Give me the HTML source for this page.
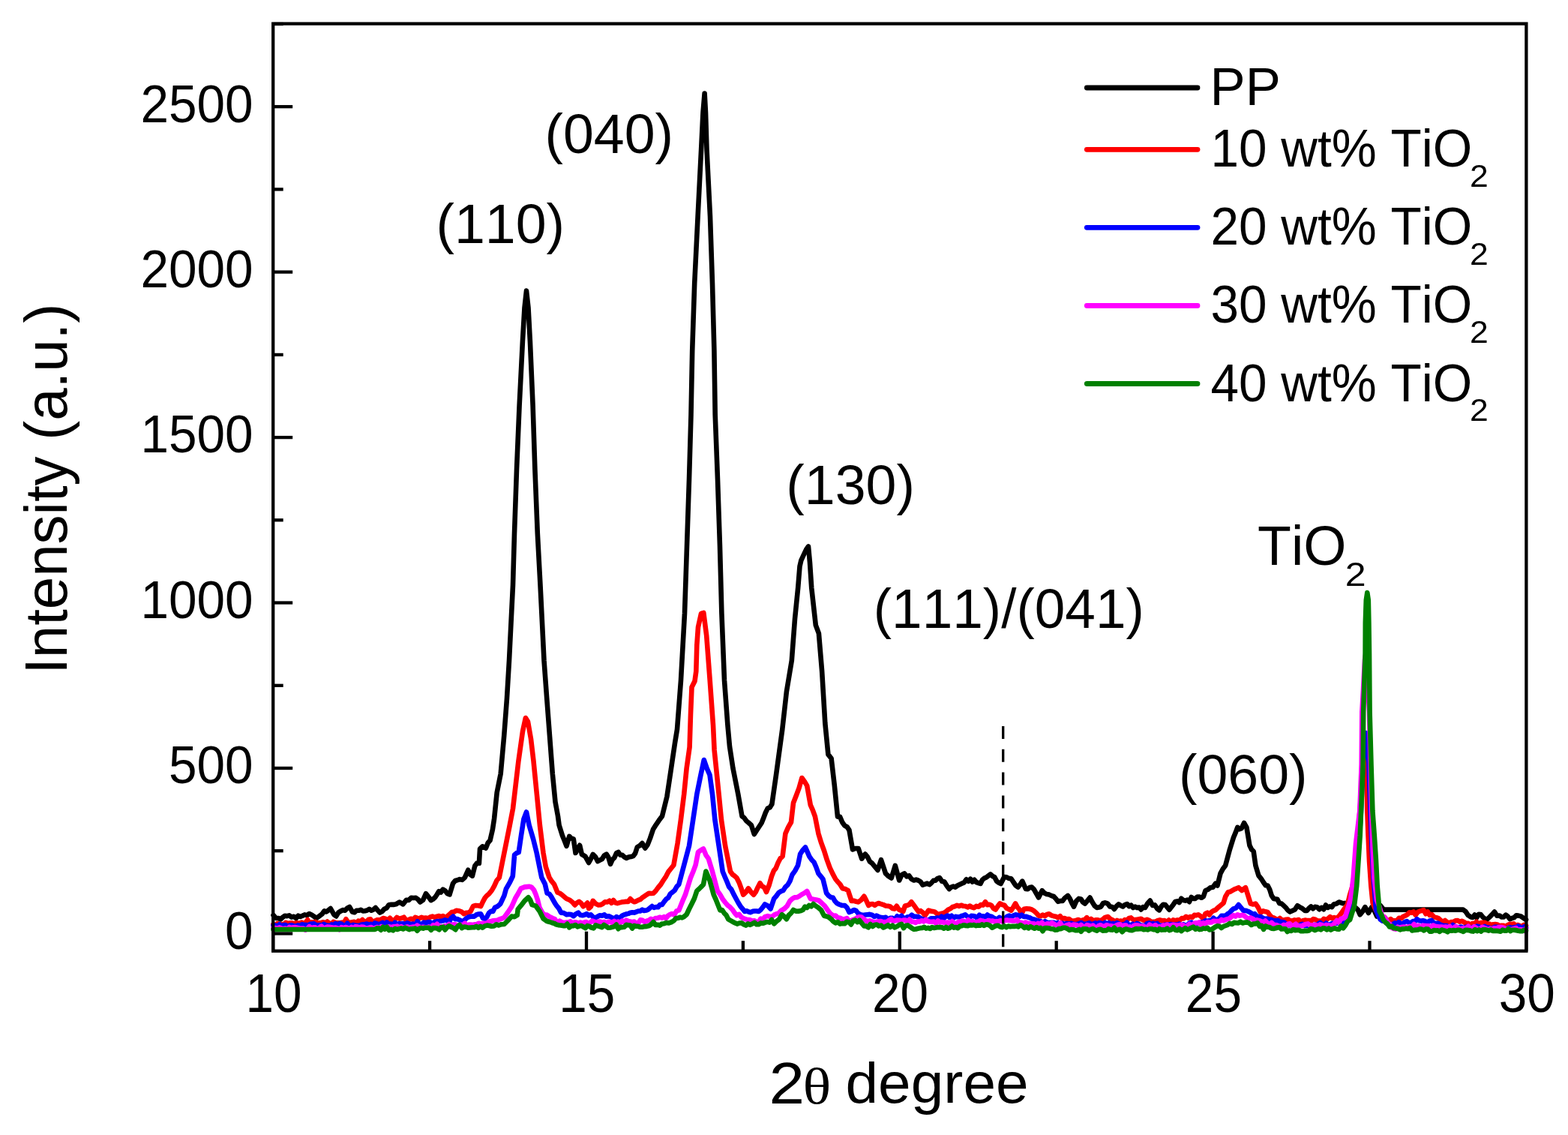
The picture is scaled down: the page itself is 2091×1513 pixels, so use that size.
<!DOCTYPE html>
<html><head><meta charset="utf-8"><title>XRD patterns</title>
<style>
html,body{margin:0;padding:0;background:#fff;}
svg{display:block;}
text{font-family:'Liberation Sans', Arial, sans-serif;fill:#000;font-kerning:none;font-feature-settings:"kern" 0;}
</style></head>
<body>
<svg width="2091" height="1513" viewBox="0 0 2091 1513">
<rect x="0" y="0" width="2091" height="1513" fill="#fff"/>
<path d="M364.5,1220.0 L368.0,1223.9 L371.5,1224.0 L374.3,1225.5 L377.1,1222.7 L379.9,1220.8 L382.7,1221.2 L385.8,1220.3 L388.8,1222.6 L391.8,1221.8 L394.9,1224.0 L397.7,1220.7 L400.5,1222.0 L403.4,1220.8 L406.2,1219.4 L409.3,1220.2 L412.4,1218.0 L415.5,1219.4 L418.8,1221.7 L422.1,1224.0 L425.9,1221.1 L429.6,1218.4 L432.4,1214.3 L435.2,1215.5 L438.0,1213.3 L440.8,1211.0 L445.5,1219.4 L448.3,1221.4 L451.2,1216.6 L454.0,1214.7 L457.1,1213.1 L460.1,1213.7 L463.1,1210.7 L466.2,1209.0 L469.9,1215.6 L472.7,1216.3 L475.5,1213.7 L478.4,1213.8 L481.2,1212.8 L484.0,1214.5 L486.8,1214.2 L489.6,1213.5 L492.4,1211.9 L495.2,1213.7 L498.0,1212.5 L500.8,1210.0 L503.6,1213.4 L506.5,1216.6 L509.5,1215.1 L512.5,1211.7 L515.6,1210.4 L518.6,1206.2 L521.7,1205.8 L524.9,1205.9 L528.0,1205.3 L532.7,1202.5 L537.4,1205.3 L542.0,1199.7 L545.1,1200.0 L548.3,1196.7 L551.5,1197.0 L554.6,1196.9 L557.4,1198.9 L560.2,1202.5 L564.1,1199.8 L568.0,1191.2 L571.4,1195.6 L574.8,1200.2 L577.4,1198.7 L580.1,1196.3 L582.7,1192.5 L585.3,1188.1 L588.0,1189.5 L590.6,1185.6 L593.6,1187.3 L596.6,1191.2 L599.6,1192.4 L604.0,1177.8 L607.0,1173.9 L610.0,1173.3 L613.0,1172.1 L616.4,1172.9 L619.8,1169.9 L624.3,1159.8 L627.1,1165.8 L629.9,1167.6 L633.3,1154.2 L636.1,1150.5 L638.9,1150.8 L640.0,1131.7 L643.4,1128.3 L647.9,1130.6 L650.7,1123.5 L653.5,1120.4 L656.9,1105.8 L659.1,1091.2 L662.7,1056.4 L667.7,1031.3 L672.2,981.0 L676.0,930.8 L679.0,880.5 L681.5,830.2 L684.0,780.0 L686.0,711.0 L689.0,626.0 L692.6,540.7 L696.9,455.3 L699.5,410.0 L702.0,387.5 L704.5,410.0 L706.9,455.0 L710.6,540.7 L713.4,626.0 L716.8,711.0 L720.5,780.0 L723.0,830.2 L725.5,880.5 L729.2,930.8 L733.0,981.0 L736.8,1031.3 L740.5,1069.0 L744.0,1088.0 L745.6,1100.0 L750.0,1113.9 L752.8,1120.8 L755.5,1127.8 L759.2,1114.8 L762.0,1117.7 L764.8,1118.5 L767.5,1137.0 L770.3,1132.1 L773.1,1126.8 L775.9,1138.9 L780.5,1141.6 L785.1,1150.0 L787.9,1144.9 L790.7,1138.9 L793.9,1142.0 L797.1,1148.1 L800.0,1146.6 L803.0,1145.0 L805.9,1140.3 L808.8,1138.6 L811.4,1143.0 L814.0,1151.8 L816.7,1145.8 L819.3,1143.3 L822.0,1137.3 L824.6,1136.0 L827.3,1139.8 L829.9,1139.8 L832.6,1142.4 L835.2,1143.9 L838.3,1142.6 L841.4,1142.1 L844.5,1141.2 L847.1,1137.5 L849.8,1129.3 L853.1,1127.3 L856.4,1124.0 L860.3,1130.7 L863.6,1126.1 L867.0,1117.4 L871.0,1105.5 L874.9,1099.3 L878.8,1093.6 L883.0,1088.0 L889.4,1062.0 L895.0,1024.4 L900.1,990.0 L903.0,972.3 L908.0,906.9 L913.0,817.7 L916.0,728.4 L919.0,639.2 L921.5,553.0 L923.2,467.4 L926.2,378.0 L930.6,288.7 L935.1,199.3 L937.5,150.0 L939.6,124.5 L941.0,150.0 L942.5,199.3 L947.0,288.7 L950.0,378.0 L952.4,467.4 L953.7,553.0 L957.0,639.2 L960.0,728.4 L962.4,817.7 L966.0,906.9 L970.4,966.4 L973.0,995.0 L977.5,1024.4 L984.3,1058.7 L989.5,1088.0 L992.3,1090.1 L995.2,1094.2 L998.0,1096.5 L1001.9,1100.0 L1005.8,1112.0 L1008.4,1107.9 L1011.0,1104.0 L1015.6,1097.0 L1018.3,1090.2 L1021.0,1083.0 L1023.8,1077.5 L1026.6,1076.4 L1029.4,1072.0 L1035.0,1033.0 L1043.3,972.0 L1048.9,922.0 L1055.8,880.5 L1060.0,825.0 L1064.2,783.3 L1066.5,755.0 L1068.3,747.2 L1072.5,738.0 L1075.2,732.4 L1078.0,728.5 L1080.0,750.0 L1082.2,783.3 L1087.8,833.3 L1091.9,844.4 L1096.1,894.4 L1100.3,963.9 L1104.4,1005.6 L1108.6,1011.0 L1112.8,1047.0 L1117.0,1088.6 L1120.1,1088.9 L1123.3,1096.3 L1126.4,1100.6 L1129.5,1102.2 L1132.5,1106.7 L1137.0,1132.5 L1140.8,1131.0 L1144.7,1131.0 L1149.2,1144.7 L1153.8,1138.6 L1156.9,1142.4 L1159.9,1148.5 L1163.0,1150.7 L1166.8,1155.5 L1170.5,1159.9 L1175.0,1146.2 L1178.0,1155.3 L1181.0,1164.4 L1184.8,1168.0 L1188.7,1170.5 L1193.8,1154.0 L1199.2,1173.5 L1202.6,1166.2 L1206.0,1164.3 L1209.2,1168.5 L1212.3,1167.3 L1215.5,1171.9 L1218.7,1173.5 L1221.7,1172.6 L1224.6,1173.7 L1227.6,1175.3 L1230.5,1179.6 L1233.5,1178.6 L1236.4,1177.5 L1239.4,1179.2 L1242.1,1176.9 L1244.8,1173.8 L1247.6,1173.6 L1250.3,1171.0 L1253.0,1170.0 L1256.2,1174.8 L1259.4,1175.5 L1262.6,1180.7 L1265.8,1185.0 L1268.5,1182.6 L1271.3,1181.6 L1274.0,1182.6 L1276.8,1180.5 L1279.5,1179.2 L1282.6,1177.8 L1285.6,1176.4 L1288.7,1172.3 L1291.4,1174.8 L1294.1,1171.8 L1296.8,1175.5 L1299.4,1172.8 L1302.1,1176.1 L1304.8,1177.0 L1307.5,1177.9 L1310.1,1172.8 L1312.8,1170.6 L1315.5,1169.5 L1318.1,1167.4 L1320.8,1165.4 L1323.6,1168.0 L1326.3,1169.3 L1329.1,1174.6 L1331.8,1176.8 L1334.6,1178.0 L1339.2,1168.9 L1342.3,1169.3 L1345.3,1170.9 L1348.4,1171.2 L1351.5,1176.0 L1354.5,1180.3 L1357.6,1182.6 L1360.4,1179.2 L1363.3,1174.6 L1367.9,1185.0 L1370.6,1185.2 L1373.2,1183.0 L1375.9,1182.6 L1378.9,1185.6 L1382.0,1191.1 L1385.0,1196.4 L1389.7,1187.2 L1392.8,1190.5 L1396.0,1192.1 L1399.2,1192.6 L1402.3,1194.1 L1405.2,1195.0 L1408.0,1198.0 L1410.9,1201.8 L1413.8,1201.0 L1416.9,1201.0 L1420.0,1197.0 L1424.0,1193.9 L1426.7,1197.8 L1429.3,1203.6 L1432.0,1208.6 L1435.3,1201.1 L1438.7,1197.9 L1441.4,1198.4 L1444.1,1202.6 L1446.8,1204.6 L1450.2,1200.6 L1453.5,1196.6 L1456.6,1202.5 L1459.7,1207.4 L1462.8,1210.0 L1465.5,1209.6 L1468.2,1208.6 L1470.9,1204.2 L1473.6,1203.3 L1476.9,1204.3 L1480.3,1208.6 L1483.2,1209.0 L1486.0,1211.9 L1488.9,1208.0 L1491.7,1205.4 L1494.6,1207.1 L1497.4,1208.5 L1500.3,1206.0 L1503.0,1205.0 L1505.7,1208.2 L1508.3,1206.6 L1511.0,1210.0 L1513.7,1208.6 L1516.4,1210.1 L1519.0,1209.6 L1521.7,1212.4 L1524.3,1209.1 L1527.0,1210.0 L1530.4,1204.3 L1533.8,1200.6 L1536.9,1206.9 L1540.1,1206.4 L1543.2,1211.3 L1545.9,1213.3 L1548.6,1208.6 L1551.2,1205.8 L1553.9,1206.0 L1556.6,1209.3 L1559.3,1212.7 L1562.0,1209.3 L1564.6,1205.9 L1567.3,1202.0 L1570.0,1201.4 L1572.7,1203.1 L1575.3,1197.7 L1578.0,1200.0 L1580.7,1200.6 L1583.4,1199.7 L1586.0,1202.2 L1588.7,1196.0 L1591.3,1197.9 L1594.0,1197.9 L1596.7,1195.5 L1599.4,1195.6 L1602.1,1196.8 L1604.8,1195.2 L1607.5,1187.2 L1610.8,1185.8 L1614.2,1183.2 L1617.6,1182.7 L1620.9,1177.8 L1623.5,1180.5 L1627.5,1164.4 L1630.8,1158.2 L1634.2,1153.7 L1639.6,1133.6 L1645.0,1116.2 L1647.7,1109.9 L1650.3,1102.8 L1653.0,1105.3 L1655.7,1104.2 L1659.0,1097.0 L1662.4,1102.8 L1666.4,1127.0 L1669.1,1132.4 L1671.7,1135.0 L1674.4,1153.7 L1678.4,1167.1 L1681.8,1171.3 L1685.1,1176.5 L1687.8,1180.2 L1690.5,1180.5 L1693.2,1185.8 L1695.8,1193.9 L1698.5,1198.0 L1703.4,1198.8 L1706.2,1204.3 L1709.0,1204.6 L1711.8,1207.2 L1714.6,1209.8 L1717.3,1213.2 L1720.1,1215.6 L1723.5,1214.1 L1726.8,1212.6 L1730.2,1207.2 L1733.5,1209.3 L1736.9,1211.2 L1740.2,1214.0 L1742.9,1213.9 L1745.6,1210.7 L1748.2,1208.4 L1750.9,1211.2 L1753.6,1208.9 L1756.5,1209.2 L1759.4,1212.2 L1762.4,1209.8 L1765.3,1212.2 L1768.0,1206.5 L1770.7,1209.9 L1773.3,1208.4 L1776.0,1209.2 L1778.7,1205.5 L1782.2,1204.8 L1785.6,1202.5 L1788.3,1203.4 L1791.1,1204.3 L1793.8,1203.9 L1798.0,1205.8 L1801.3,1206.7 L1804.7,1208.9 L1808.0,1210.3 L1810.8,1212.8 L1813.7,1219.3 L1817.1,1215.0 L1820.4,1209.2 L1825.0,1217.0 L1829.4,1209.2 L1832.8,1214.2 L1836.2,1221.6 L1840.7,1207.0 L1845.2,1212.6 L1847.8,1212.6 L1850.5,1212.6 L1853.1,1212.6 L1855.8,1212.6 L1858.4,1212.6 L1861.1,1212.6 L1863.7,1212.6 L1866.4,1212.6 L1869.0,1212.6 L1871.7,1212.6 L1874.3,1212.6 L1877.0,1212.6 L1879.6,1212.6 L1882.3,1212.6 L1884.9,1212.6 L1887.6,1212.6 L1890.2,1212.6 L1892.9,1212.6 L1895.5,1212.6 L1898.2,1212.6 L1900.8,1212.6 L1903.4,1212.6 L1906.1,1212.6 L1908.7,1212.6 L1911.4,1212.6 L1914.0,1212.6 L1916.7,1212.6 L1919.3,1212.6 L1922.0,1212.6 L1924.6,1212.6 L1927.3,1212.6 L1929.9,1212.6 L1932.6,1212.6 L1935.2,1212.6 L1937.9,1212.6 L1940.5,1212.6 L1943.2,1212.6 L1945.8,1212.6 L1948.5,1212.6 L1951.1,1212.6 L1954.5,1215.2 L1957.8,1220.1 L1961.2,1222.3 L1963.9,1223.0 L1966.6,1219.5 L1969.2,1223.3 L1971.9,1218.8 L1974.6,1219.0 L1977.4,1222.5 L1980.2,1224.8 L1983.0,1225.6 L1986.3,1222.6 L1989.7,1219.2 L1993.0,1215.6 L1996.3,1220.8 L1999.7,1220.6 L2002.5,1222.5 L2005.3,1222.4 L2008.1,1219.6 L2010.8,1221.7 L2013.6,1225.2 L2016.4,1224.0 L2019.2,1223.2 L2022.0,1220.3 L2024.8,1220.6 L2028.2,1221.4 L2031.6,1223.7 L2035.0,1226.0" fill="none" stroke="#000" stroke-width="6.6" stroke-linejoin="round" stroke-linecap="round"/>
<path d="M364.5,1232.0 L367.2,1235.0 L370.0,1231.0 L372.8,1232.4 L375.5,1232.0 L378.2,1232.8 L381.0,1229.9 L383.8,1231.1 L386.5,1230.6 L389.2,1230.2 L392.0,1231.5 L394.6,1230.2 L397.2,1230.5 L399.8,1230.6 L402.4,1229.6 L405.0,1231.1 L407.6,1229.7 L410.2,1226.1 L412.8,1231.6 L415.4,1229.4 L418.0,1229.7 L420.6,1228.8 L423.2,1230.3 L425.9,1230.3 L428.5,1230.2 L431.1,1229.2 L433.8,1230.6 L436.4,1228.5 L439.0,1230.6 L441.8,1232.4 L444.6,1228.8 L447.4,1230.1 L450.2,1230.3 L453.0,1230.4 L455.8,1229.7 L458.6,1230.6 L461.4,1225.2 L464.2,1229.5 L467.0,1229.7 L469.7,1229.2 L472.4,1228.7 L475.1,1231.1 L477.9,1227.7 L480.6,1228.7 L483.3,1226.0 L486.0,1228.7 L488.8,1228.5 L491.5,1225.7 L494.2,1225.4 L497.0,1230.2 L499.8,1227.7 L502.5,1226.4 L505.2,1226.3 L508.0,1225.9 L511.0,1224.0 L514.0,1224.7 L517.0,1226.9 L520.0,1223.7 L523.0,1226.9 L526.1,1226.4 L529.2,1223.0 L532.4,1224.7 L535.5,1224.0 L538.6,1222.7 L541.7,1226.9 L544.8,1226.3 L547.9,1224.7 L551.0,1225.9 L553.7,1222.8 L556.5,1223.9 L559.2,1224.4 L562.0,1222.7 L564.7,1223.8 L567.7,1223.6 L570.7,1224.2 L573.7,1222.5 L576.7,1221.6 L579.7,1222.8 L582.7,1221.6 L585.4,1221.0 L588.1,1222.5 L590.8,1221.0 L593.5,1223.6 L596.2,1221.6 L599.3,1219.1 L602.4,1216.1 L605.4,1215.6 L608.5,1213.7 L611.9,1214.2 L615.3,1215.3 L618.7,1218.2 L621.7,1216.7 L624.6,1216.8 L627.6,1214.8 L631.0,1207.9 L634.4,1207.0 L637.8,1207.3 L641.1,1208.1 L643.9,1202.1 L646.7,1196.9 L649.5,1193.7 L652.4,1191.2 L655.8,1187.0 L659.1,1181.1 L662.5,1173.6 L665.8,1169.9 L670.3,1147.4 L674.8,1125.0 L679.3,1102.5 L684.0,1078.0 L691.4,1014.7 L697.0,975.0 L700.9,957.0 L704.0,962.0 L708.0,985.0 L711.5,1014.7 L716.0,1060.0 L719.9,1100.0 L722.2,1118.5 L724.5,1137.0 L727.8,1155.5 L732.4,1169.4 L735.6,1174.7 L738.9,1178.6 L743.5,1189.7 L746.2,1190.6 L749.0,1192.5 L752.2,1195.2 L755.5,1198.0 L760.1,1200.0 L763.4,1202.7 L766.6,1206.4 L769.4,1203.5 L772.2,1201.8 L775.0,1204.1 L777.7,1208.2 L780.5,1206.3 L783.3,1203.6 L785.1,1211.0 L787.9,1208.5 L790.7,1200.8 L794.4,1204.8 L798.0,1206.4 L800.9,1206.2 L803.9,1204.7 L806.8,1202.2 L809.8,1202.5 L812.7,1200.7 L815.4,1203.8 L818.0,1200.0 L820.7,1203.3 L823.3,1204.1 L826.0,1203.4 L828.9,1202.6 L831.8,1202.2 L834.7,1201.9 L837.6,1202.0 L840.5,1198.1 L843.2,1200.8 L845.9,1202.3 L848.6,1201.3 L851.3,1199.9 L854.1,1198.9 L856.8,1196.3 L859.6,1194.7 L862.3,1192.7 L865.3,1190.7 L868.3,1191.0 L871.4,1190.7 L874.4,1187.6 L877.8,1183.0 L881.2,1179.0 L884.6,1173.5 L888.1,1168.3 L891.5,1161.8 L895.0,1157.5 L898.4,1153.2 L903.6,1124.0 L907.9,1093.0 L912.2,1058.7 L915.6,1024.4 L919.6,996.0 L921.0,952.0 L922.5,916.0 L926.5,908.0 L928.3,895.0 L929.3,860.0 L931.0,836.0 L935.0,818.0 L938.3,817.0 L942.2,847.4 L946.7,906.9 L951.0,966.4 L952.6,1000.0 L955.1,1024.4 L958.6,1058.7 L962.0,1093.0 L967.1,1127.5 L974.0,1161.8 L976.9,1165.8 L979.7,1167.8 L982.6,1170.4 L985.5,1176.2 L988.3,1183.8 L991.2,1192.7 L994.6,1189.3 L998.0,1184.2 L1001.5,1189.2 L1005.0,1192.7 L1007.8,1189.0 L1010.7,1182.7 L1013.5,1177.3 L1016.3,1181.4 L1019.2,1183.0 L1022.0,1189.0 L1025.5,1180.3 L1029.0,1168.0 L1031.9,1160.7 L1034.7,1157.3 L1037.6,1150.0 L1040.6,1144.3 L1043.6,1141.6 L1047.4,1111.2 L1051.2,1102.7 L1055.0,1096.0 L1058.0,1070.2 L1061.8,1060.5 L1065.6,1050.4 L1069.4,1037.0 L1072.8,1041.6 L1076.2,1047.4 L1080.8,1073.2 L1083.8,1079.8 L1086.9,1088.4 L1091.4,1111.2 L1095.2,1123.7 L1099.0,1134.0 L1102.8,1146.2 L1106.7,1156.8 L1110.5,1164.9 L1114.3,1172.0 L1117.3,1175.6 L1120.4,1179.0 L1123.4,1184.2 L1127.2,1185.0 L1131.0,1187.2 L1135.5,1200.9 L1138.6,1200.7 L1141.6,1201.8 L1144.7,1202.4 L1148.5,1199.6 L1152.3,1194.8 L1155.3,1200.6 L1158.3,1207.0 L1161.0,1205.3 L1163.8,1205.0 L1166.5,1206.9 L1169.3,1204.8 L1172.0,1204.0 L1175.0,1205.2 L1178.1,1206.1 L1181.1,1207.5 L1184.2,1207.8 L1187.2,1208.5 L1190.1,1211.0 L1192.9,1211.6 L1195.8,1207.8 L1198.6,1212.4 L1201.5,1213.6 L1204.3,1215.2 L1207.0,1207.4 L1209.8,1206.9 L1212.5,1205.9 L1215.3,1202.2 L1218.7,1206.7 L1222.0,1211.3 L1224.9,1215.3 L1227.8,1214.2 L1230.7,1216.6 L1233.6,1220.5 L1238.2,1213.6 L1241.1,1214.5 L1244.0,1214.9 L1246.8,1215.6 L1249.7,1218.2 L1252.8,1218.5 L1255.8,1217.7 L1258.9,1217.0 L1261.8,1215.0 L1264.6,1212.5 L1267.5,1211.3 L1270.3,1209.0 L1273.2,1208.3 L1276.0,1206.9 L1278.9,1207.9 L1281.8,1206.7 L1284.7,1207.8 L1287.5,1208.0 L1290.4,1209.4 L1293.3,1207.6 L1296.1,1209.4 L1299.0,1210.2 L1302.0,1207.9 L1305.0,1208.7 L1308.0,1206.1 L1311.0,1206.6 L1314.0,1202.2 L1316.7,1206.3 L1319.5,1205.8 L1322.2,1207.0 L1325.0,1211.1 L1327.7,1212.5 L1330.6,1208.1 L1333.5,1204.4 L1336.5,1206.0 L1339.5,1206.7 L1342.4,1210.7 L1345.4,1212.0 L1348.4,1213.6 L1351.2,1209.5 L1354.1,1204.4 L1356.8,1209.4 L1359.5,1212.4 L1362.2,1218.2 L1365.6,1211.8 L1369.0,1211.3 L1372.5,1211.5 L1376.0,1212.5 L1379.0,1214.3 L1382.0,1217.1 L1385.0,1220.5 L1387.8,1221.3 L1390.6,1219.5 L1393.4,1221.1 L1396.2,1218.9 L1399.0,1218.2 L1402.0,1220.3 L1405.0,1221.2 L1408.0,1221.7 L1410.9,1223.3 L1413.8,1221.2 L1416.7,1224.8 L1419.6,1224.0 L1422.6,1225.3 L1425.7,1225.0 L1428.7,1227.4 L1431.8,1227.7 L1434.9,1226.9 L1438.0,1226.0 L1440.8,1227.5 L1443.7,1226.6 L1446.5,1226.0 L1449.3,1223.2 L1452.2,1227.3 L1455.0,1225.0 L1458.0,1227.1 L1461.0,1226.4 L1464.0,1226.2 L1467.0,1227.4 L1470.0,1226.0 L1473.8,1222.9 L1477.6,1222.0 L1480.7,1225.1 L1483.9,1226.5 L1487.0,1228.7 L1489.6,1226.9 L1492.2,1228.1 L1494.8,1227.5 L1497.4,1228.8 L1500.0,1226.0 L1502.7,1227.2 L1505.5,1223.9 L1508.2,1223.4 L1511.0,1225.9 L1513.7,1226.0 L1516.4,1225.9 L1519.0,1225.2 L1521.7,1224.7 L1524.3,1226.5 L1527.0,1227.0 L1529.7,1225.8 L1532.4,1226.8 L1535.1,1229.1 L1537.8,1228.7 L1540.5,1228.7 L1543.6,1227.3 L1546.8,1226.4 L1549.9,1227.2 L1553.0,1227.0 L1555.9,1229.3 L1558.7,1226.5 L1561.6,1229.5 L1564.4,1226.3 L1567.3,1227.4 L1570.2,1226.4 L1573.0,1226.8 L1575.9,1224.1 L1578.8,1224.4 L1581.7,1221.8 L1584.5,1223.6 L1587.4,1222.0 L1590.1,1222.8 L1592.7,1219.8 L1595.3,1220.2 L1598.0,1219.3 L1601.4,1221.5 L1604.8,1224.7 L1607.4,1217.9 L1610.1,1216.7 L1612.8,1219.4 L1615.5,1215.7 L1618.2,1214.0 L1620.9,1213.1 L1623.6,1210.5 L1626.2,1208.2 L1628.9,1206.0 L1631.6,1203.7 L1634.2,1195.2 L1637.6,1189.5 L1641.0,1188.5 L1643.7,1186.8 L1646.3,1185.3 L1649.0,1184.3 L1651.7,1183.2 L1656.0,1187.0 L1661.0,1183.2 L1667.7,1204.6 L1671.1,1205.5 L1674.4,1204.6 L1677.8,1209.7 L1681.1,1216.7 L1684.4,1214.3 L1687.8,1215.3 L1690.5,1215.9 L1693.2,1219.9 L1695.8,1222.6 L1698.5,1223.4 L1701.3,1224.9 L1704.1,1226.3 L1706.8,1224.0 L1709.6,1226.4 L1712.4,1226.5 L1715.2,1225.8 L1717.9,1225.5 L1720.7,1228.0 L1723.5,1227.3 L1726.3,1226.4 L1729.1,1226.9 L1731.9,1226.0 L1734.7,1229.6 L1737.5,1227.2 L1740.2,1226.6 L1743.0,1227.0 L1745.8,1227.0 L1748.6,1227.4 L1751.4,1225.1 L1754.2,1225.8 L1757.0,1227.3 L1759.8,1227.6 L1762.6,1228.0 L1765.3,1224.9 L1768.1,1226.0 L1770.9,1224.7 L1773.7,1222.1 L1776.4,1224.3 L1779.2,1223.0 L1782.0,1224.0 L1785.5,1221.6 L1789.0,1217.0 L1791.6,1213.0 L1794.3,1209.5 L1796.9,1205.8 L1800.2,1192.4 L1804.0,1180.0 L1808.0,1150.0 L1812.0,1100.0 L1815.0,1060.0 L1818.0,1019.0 L1820.0,1004.0 L1822.0,1015.0 L1823.3,1080.0 L1824.5,1113.0 L1826.0,1147.4 L1828.3,1181.0 L1830.6,1203.6 L1835.0,1214.0 L1837.8,1217.1 L1840.7,1224.0 L1843.5,1224.7 L1846.3,1222.6 L1849.1,1225.9 L1851.8,1228.0 L1854.6,1225.2 L1857.4,1227.3 L1860.2,1227.3 L1863.0,1226.9 L1865.8,1223.7 L1868.5,1224.3 L1871.3,1221.8 L1874.1,1220.6 L1876.8,1219.1 L1879.5,1216.3 L1882.3,1216.7 L1885.0,1215.4 L1887.7,1219.6 L1890.5,1216.0 L1893.2,1214.6 L1895.9,1214.0 L1898.6,1213.2 L1901.3,1218.2 L1903.9,1215.5 L1906.6,1219.9 L1909.3,1219.0 L1912.3,1222.4 L1915.3,1223.1 L1918.3,1224.1 L1921.3,1226.9 L1924.3,1229.0 L1927.1,1227.0 L1929.9,1229.3 L1932.7,1230.3 L1935.4,1229.0 L1938.2,1228.9 L1941.0,1227.3 L1943.8,1227.0 L1946.6,1228.8 L1949.4,1227.7 L1952.2,1229.0 L1955.0,1231.1 L1957.8,1230.7 L1960.6,1234.1 L1963.4,1231.1 L1966.2,1231.1 L1969.0,1228.8 L1971.8,1231.6 L1974.5,1230.3 L1977.3,1229.8 L1980.1,1229.8 L1982.9,1232.1 L1985.7,1231.5 L1988.5,1233.0 L1991.3,1232.3 L1994.0,1232.1 L1996.8,1232.5 L1999.5,1234.5 L2002.2,1233.8 L2005.0,1233.8 L2007.7,1234.9 L2010.4,1233.3 L2013.2,1231.9 L2015.9,1232.2 L2018.6,1231.3 L2021.3,1233.9 L2024.1,1233.0 L2026.8,1234.3 L2029.5,1234.9 L2032.3,1232.8 L2035.0,1234.0" fill="none" stroke="#f00" stroke-width="6.6" stroke-linejoin="round" stroke-linecap="round"/>
<path d="M364.5,1233.4 L367.2,1233.5 L370.0,1234.9 L372.7,1232.3 L375.4,1234.6 L378.2,1233.1 L380.9,1233.1 L383.6,1235.7 L386.4,1233.6 L389.1,1233.3 L391.9,1234.3 L394.6,1234.8 L397.3,1233.4 L400.1,1234.1 L402.8,1232.2 L405.5,1233.0 L408.3,1232.9 L411.0,1233.4 L413.6,1231.8 L416.2,1231.6 L418.8,1231.4 L421.4,1233.1 L424.1,1233.2 L426.7,1233.0 L429.3,1233.5 L431.9,1231.8 L434.5,1233.3 L437.1,1233.7 L439.7,1234.3 L442.3,1232.4 L444.9,1232.9 L447.6,1231.0 L450.2,1232.8 L452.8,1230.8 L455.4,1231.7 L458.0,1233.4 L460.6,1234.7 L463.2,1230.7 L465.8,1234.2 L468.4,1233.6 L471.1,1232.8 L473.7,1233.7 L476.3,1233.7 L478.9,1234.3 L481.5,1232.7 L484.1,1232.2 L486.7,1232.1 L489.3,1231.6 L491.9,1232.7 L494.6,1231.8 L497.2,1233.9 L499.8,1230.4 L502.4,1231.2 L505.0,1232.5 L507.7,1231.3 L510.4,1229.9 L513.1,1234.6 L515.8,1229.4 L518.5,1231.9 L521.2,1231.5 L523.9,1234.1 L526.6,1229.6 L529.4,1233.3 L532.1,1231.0 L534.8,1231.7 L537.5,1231.0 L540.2,1232.5 L542.9,1230.3 L545.6,1231.5 L548.3,1232.0 L551.0,1231.5 L553.8,1233.4 L556.7,1228.1 L559.5,1232.5 L562.4,1231.6 L565.2,1229.6 L568.0,1230.3 L570.9,1229.1 L573.7,1229.4 L576.5,1231.1 L579.3,1229.1 L582.1,1228.3 L585.0,1228.0 L587.8,1227.8 L590.6,1227.5 L593.4,1226.4 L596.2,1227.2 L598.9,1229.2 L601.6,1224.0 L604.3,1221.6 L607.0,1225.3 L609.7,1225.0 L613.0,1226.5 L616.4,1228.3 L619.0,1226.9 L621.7,1224.3 L624.3,1222.7 L627.1,1221.8 L629.9,1221.6 L632.7,1221.6 L635.5,1219.2 L638.3,1218.5 L641.1,1218.2 L643.9,1223.9 L646.7,1225.0 L649.3,1222.2 L652.0,1217.0 L654.6,1214.8 L657.3,1215.0 L660.0,1209.7 L663.7,1208.1 L667.4,1204.7 L672.4,1193.8 L674.9,1184.9 L679.8,1176.4 L683.8,1168.0 L686.1,1139.6 L688.9,1137.2 L691.7,1136.2 L695.0,1113.7 L698.4,1092.0 L702.0,1082.5 L705.6,1100.0 L711.1,1118.5 L715.7,1137.0 L719.4,1155.5 L722.2,1169.4 L726.8,1178.6 L729.6,1190.7 L732.4,1191.6 L735.2,1195.3 L739.8,1203.6 L742.5,1207.7 L745.3,1211.0 L748.1,1216.6 L751.8,1217.0 L755.5,1219.3 L758.6,1218.7 L761.7,1219.0 L764.8,1221.2 L768.0,1218.3 L771.2,1216.6 L774.0,1219.8 L776.8,1220.3 L779.6,1219.5 L782.3,1218.1 L785.1,1220.4 L787.9,1219.3 L792.5,1224.0 L796.2,1222.2 L799.9,1220.3 L803.0,1220.8 L806.1,1219.3 L808.7,1221.8 L811.4,1221.2 L814.0,1222.2 L816.7,1223.4 L819.3,1224.5 L822.0,1222.1 L824.6,1223.2 L827.3,1223.0 L829.9,1220.5 L832.6,1219.3 L835.2,1218.5 L837.9,1217.9 L840.5,1216.7 L843.2,1216.2 L845.8,1216.6 L848.4,1215.6 L851.1,1214.5 L853.7,1214.5 L856.4,1212.6 L859.0,1214.0 L861.6,1213.6 L864.3,1212.5 L866.9,1210.2 L869.6,1208.0 L872.2,1210.0 L874.9,1209.0 L877.5,1209.3 L880.1,1206.1 L882.8,1206.0 L885.6,1202.1 L888.4,1198.6 L891.1,1196.8 L893.9,1191.5 L896.7,1189.3 L899.6,1187.0 L902.4,1182.1 L905.3,1179.0 L912.2,1153.2 L919.0,1127.5 L924.2,1093.0 L929.3,1058.7 L934.5,1033.0 L938.8,1013.0 L942.6,1024.1 L946.5,1033.0 L950.0,1058.7 L953.4,1093.0 L958.6,1127.5 L963.7,1161.8 L966.6,1168.7 L969.4,1175.3 L972.3,1182.4 L975.3,1185.8 L978.3,1191.9 L981.3,1197.5 L984.3,1203.0 L987.2,1207.8 L990.1,1211.3 L993.0,1215.0 L995.7,1214.2 L998.4,1215.5 L1001.1,1216.2 L1003.7,1214.8 L1006.4,1214.5 L1009.1,1214.5 L1011.8,1215.0 L1014.5,1212.8 L1017.3,1209.3 L1020.0,1205.5 L1023.8,1207.4 L1027.6,1211.5 L1032.2,1197.9 L1035.2,1194.5 L1038.2,1190.3 L1041.2,1188.2 L1044.3,1187.2 L1047.3,1182.5 L1050.4,1179.6 L1053.5,1174.3 L1056.5,1166.0 L1060.2,1160.9 L1064.0,1153.8 L1067.1,1138.6 L1070.5,1133.2 L1074.0,1129.5 L1076.7,1135.6 L1079.3,1141.6 L1082.3,1146.0 L1085.4,1149.2 L1088.4,1156.0 L1091.4,1164.4 L1094.5,1168.1 L1097.5,1172.0 L1102.0,1190.3 L1105.1,1194.1 L1108.2,1196.3 L1110.8,1196.5 L1113.5,1201.3 L1116.2,1204.1 L1118.8,1205.5 L1122.6,1206.9 L1126.4,1207.0 L1129.5,1209.9 L1132.5,1216.0 L1135.5,1214.9 L1138.6,1213.0 L1141.6,1214.0 L1144.7,1217.8 L1147.7,1219.2 L1150.7,1219.9 L1153.8,1219.5 L1156.8,1219.2 L1159.8,1218.9 L1162.9,1219.7 L1165.9,1222.0 L1169.0,1220.5 L1172.0,1222.2 L1175.0,1223.1 L1178.1,1223.4 L1181.1,1222.8 L1184.2,1226.3 L1187.2,1223.7 L1190.2,1223.8 L1193.3,1226.3 L1196.4,1221.3 L1199.4,1223.7 L1202.2,1220.7 L1204.9,1224.3 L1207.7,1223.6 L1210.4,1222.2 L1213.2,1222.2 L1215.9,1219.7 L1218.7,1221.7 L1221.6,1221.7 L1224.5,1222.0 L1227.3,1223.7 L1230.2,1225.8 L1233.1,1225.6 L1236.0,1226.3 L1238.8,1226.2 L1241.6,1224.4 L1244.4,1224.2 L1247.2,1224.4 L1250.0,1223.4 L1252.8,1224.8 L1255.6,1221.7 L1258.4,1224.5 L1261.2,1221.7 L1263.8,1220.5 L1266.4,1223.0 L1269.0,1220.8 L1271.6,1223.7 L1274.2,1221.9 L1276.9,1222.2 L1279.5,1222.6 L1282.1,1220.9 L1284.7,1220.4 L1287.3,1219.3 L1289.9,1221.7 L1292.6,1223.2 L1295.2,1220.9 L1297.9,1221.0 L1300.6,1221.7 L1303.3,1224.1 L1306.0,1219.6 L1308.6,1222.0 L1311.3,1221.2 L1314.0,1222.3 L1316.7,1219.5 L1319.3,1221.2 L1322.0,1221.7 L1324.7,1223.3 L1327.3,1224.7 L1330.0,1225.3 L1332.7,1222.9 L1335.3,1224.5 L1338.0,1225.0 L1340.7,1223.9 L1343.3,1221.5 L1346.0,1220.5 L1348.7,1222.2 L1351.3,1220.6 L1354.0,1219.4 L1356.8,1219.7 L1359.6,1221.8 L1362.4,1219.6 L1365.2,1221.9 L1368.0,1221.7 L1370.8,1222.7 L1373.7,1223.5 L1376.5,1225.1 L1379.3,1225.7 L1382.2,1226.8 L1385.0,1227.4 L1387.9,1228.1 L1390.8,1230.5 L1393.7,1228.2 L1396.5,1230.1 L1399.4,1230.0 L1402.3,1229.7 L1405.2,1229.7 L1408.1,1231.4 L1410.9,1229.8 L1413.8,1232.6 L1416.7,1230.6 L1419.6,1232.0 L1422.6,1231.0 L1425.7,1231.6 L1428.7,1230.8 L1431.4,1231.9 L1434.0,1232.0 L1436.7,1232.1 L1439.3,1230.9 L1442.0,1230.0 L1444.7,1231.9 L1447.3,1231.7 L1450.0,1231.4 L1452.6,1230.3 L1455.3,1232.6 L1457.9,1231.7 L1460.5,1230.4 L1463.2,1232.1 L1465.8,1230.0 L1468.4,1230.6 L1471.1,1232.1 L1473.7,1229.8 L1476.3,1231.8 L1478.9,1230.1 L1481.6,1232.7 L1484.2,1230.9 L1486.8,1232.1 L1489.5,1230.1 L1492.1,1231.5 L1494.7,1233.1 L1497.4,1232.5 L1500.0,1232.0 L1502.7,1229.8 L1505.4,1233.2 L1508.1,1233.2 L1510.8,1231.7 L1513.5,1233.9 L1516.2,1230.9 L1518.9,1232.1 L1521.6,1233.6 L1524.3,1233.9 L1527.0,1233.9 L1529.6,1231.1 L1532.3,1230.3 L1535.0,1232.9 L1537.7,1230.8 L1540.4,1232.4 L1543.1,1231.0 L1545.8,1233.9 L1548.5,1233.6 L1551.2,1233.3 L1553.9,1232.7 L1556.6,1232.6 L1559.2,1232.6 L1561.9,1232.1 L1564.6,1232.8 L1567.3,1232.6 L1569.9,1232.7 L1572.6,1231.6 L1575.3,1234.3 L1578.0,1232.3 L1580.6,1233.5 L1583.3,1233.3 L1586.0,1230.6 L1588.7,1229.5 L1591.3,1233.0 L1594.0,1231.4 L1596.7,1230.4 L1599.4,1230.4 L1602.1,1229.5 L1604.8,1229.4 L1607.5,1227.3 L1610.1,1228.0 L1612.8,1227.1 L1615.5,1227.1 L1618.2,1223.7 L1620.9,1226.0 L1623.6,1225.9 L1626.2,1224.3 L1628.9,1220.7 L1631.5,1220.9 L1634.2,1220.7 L1636.9,1218.4 L1639.6,1216.8 L1642.3,1213.7 L1645.0,1211.3 L1648.3,1210.3 L1651.7,1206.0 L1655.0,1210.0 L1658.3,1214.0 L1661.4,1213.7 L1664.6,1215.0 L1667.7,1216.7 L1670.4,1218.7 L1673.1,1218.1 L1675.7,1220.9 L1678.4,1222.2 L1681.1,1222.0 L1684.0,1223.6 L1686.9,1225.0 L1689.8,1224.5 L1692.7,1225.6 L1695.6,1225.8 L1698.5,1227.4 L1701.3,1227.4 L1704.1,1227.0 L1706.8,1228.9 L1709.6,1229.0 L1712.4,1229.4 L1715.2,1232.0 L1717.9,1233.1 L1720.7,1232.9 L1723.5,1234.0 L1726.1,1235.6 L1728.8,1235.0 L1731.4,1235.0 L1734.1,1232.9 L1736.7,1231.8 L1739.4,1234.1 L1742.0,1233.7 L1744.6,1234.2 L1747.3,1233.7 L1749.9,1234.6 L1752.6,1232.7 L1755.2,1233.7 L1757.8,1231.8 L1760.5,1230.0 L1763.1,1232.1 L1765.8,1234.4 L1768.4,1230.5 L1771.1,1233.6 L1773.7,1232.3 L1776.5,1230.9 L1779.3,1230.7 L1782.1,1230.7 L1784.8,1230.4 L1787.6,1228.4 L1790.4,1229.0 L1793.7,1225.7 L1797.0,1222.0 L1801.0,1210.0 L1805.0,1195.0 L1809.0,1170.0 L1812.0,1130.0 L1815.0,1081.0 L1817.5,1019.0 L1819.5,990.0 L1821.5,977.0 L1823.5,990.0 L1825.4,1019.0 L1827.5,1081.0 L1829.5,1130.0 L1831.5,1170.0 L1834.0,1200.0 L1835.0,1213.0 L1837.8,1219.8 L1840.7,1225.6 L1843.5,1227.7 L1846.3,1226.9 L1849.1,1230.8 L1851.8,1232.4 L1854.6,1234.1 L1857.4,1232.3 L1860.1,1230.4 L1862.8,1231.8 L1865.4,1229.1 L1868.1,1231.4 L1870.8,1231.3 L1873.5,1228.9 L1876.2,1228.1 L1878.8,1229.9 L1881.5,1230.1 L1884.2,1228.0 L1886.9,1228.3 L1889.6,1225.3 L1892.2,1227.1 L1894.9,1227.8 L1897.6,1227.3 L1900.4,1228.0 L1903.2,1230.3 L1906.1,1227.6 L1908.9,1226.8 L1911.7,1230.0 L1914.6,1231.2 L1917.5,1230.6 L1920.3,1232.3 L1923.2,1233.5 L1926.1,1234.1 L1929.0,1234.0 L1931.8,1236.1 L1934.7,1236.3 L1937.5,1233.0 L1940.3,1235.3 L1943.2,1238.1 L1946.0,1236.0 L1948.6,1235.5 L1951.2,1237.2 L1953.9,1236.0 L1956.5,1235.6 L1959.1,1238.0 L1961.7,1237.3 L1964.3,1235.8 L1966.9,1237.2 L1969.6,1234.6 L1972.2,1235.3 L1974.8,1237.2 L1977.4,1236.2 L1980.0,1234.9 L1982.6,1236.7 L1985.3,1236.6 L1987.9,1237.8 L1990.5,1237.4 L1993.1,1235.9 L1995.7,1235.7 L1998.4,1236.1 L2001.0,1236.0 L2003.6,1238.1 L2006.2,1238.2 L2008.8,1238.0 L2011.4,1236.8 L2014.1,1236.1 L2016.7,1237.5 L2019.3,1236.0 L2021.9,1236.7 L2024.5,1234.4 L2027.1,1235.9 L2029.8,1238.2 L2032.4,1235.3 L2035.0,1236.5" fill="none" stroke="#00f" stroke-width="6.6" stroke-linejoin="round" stroke-linecap="round"/>
<path d="M364.5,1237.0 L367.2,1237.0 L369.8,1237.6 L372.5,1236.4 L375.2,1237.4 L377.9,1238.1 L380.5,1237.5 L383.2,1238.9 L385.9,1235.9 L388.5,1237.1 L391.2,1236.2 L393.9,1236.1 L396.6,1236.8 L399.2,1237.3 L401.9,1237.5 L404.6,1237.6 L407.2,1239.7 L409.9,1238.0 L412.6,1235.1 L415.3,1237.2 L417.9,1236.3 L420.6,1236.4 L423.3,1238.6 L425.9,1236.7 L428.6,1234.7 L431.3,1237.4 L434.0,1236.7 L436.6,1235.6 L439.3,1235.9 L442.0,1236.2 L444.6,1237.0 L447.3,1236.5 L450.0,1237.1 L452.7,1239.2 L455.3,1236.0 L458.0,1237.0 L460.7,1236.0 L463.3,1236.6 L466.0,1238.2 L468.6,1236.0 L471.3,1238.5 L473.9,1235.2 L476.6,1235.5 L479.3,1236.6 L481.9,1235.6 L484.6,1235.8 L487.2,1237.1 L489.9,1237.4 L492.5,1236.6 L495.2,1236.1 L497.9,1238.0 L500.5,1236.8 L503.2,1236.0 L505.8,1237.7 L508.5,1235.1 L511.1,1236.3 L513.8,1236.9 L516.5,1236.0 L519.1,1235.3 L521.8,1236.4 L524.4,1235.3 L527.1,1235.2 L529.7,1234.6 L532.4,1237.4 L535.1,1235.1 L537.7,1237.1 L540.4,1236.1 L543.0,1235.3 L545.7,1236.4 L548.3,1235.9 L551.0,1235.5 L553.7,1235.6 L556.3,1233.7 L559.0,1235.4 L561.6,1236.3 L564.3,1235.8 L567.0,1236.3 L569.6,1236.9 L572.3,1235.5 L574.9,1237.3 L577.6,1233.1 L580.2,1234.6 L582.9,1231.8 L585.6,1235.7 L588.2,1234.8 L590.9,1236.6 L593.5,1234.1 L596.2,1234.5 L598.8,1231.9 L601.5,1235.7 L604.1,1232.4 L606.8,1232.3 L609.4,1233.4 L612.0,1234.2 L614.7,1232.7 L617.3,1233.4 L620.0,1230.7 L622.6,1234.9 L625.3,1232.5 L627.9,1232.6 L630.5,1233.0 L633.2,1232.3 L635.8,1232.2 L638.5,1230.7 L641.1,1231.6 L643.9,1230.7 L646.7,1230.7 L649.5,1230.7 L652.4,1228.5 L655.2,1228.0 L658.0,1227.2 L660.7,1227.0 L663.3,1226.8 L666.0,1225.5 L669.2,1224.5 L672.4,1223.0 L677.4,1216.0 L682.3,1208.7 L687.3,1197.3 L689.7,1193.3 L694.7,1184.4 L699.7,1182.4 L702.7,1182.1 L705.6,1181.8 L708.6,1182.4 L712.0,1186.4 L714.5,1192.3 L717.0,1199.7 L719.5,1209.7 L723.5,1217.1 L726.5,1219.7 L729.4,1219.6 L733.2,1222.2 L737.0,1224.0 L740.1,1225.3 L743.2,1230.6 L746.3,1227.7 L749.4,1229.4 L752.4,1229.9 L755.5,1229.5 L758.1,1229.7 L760.8,1228.3 L763.4,1230.9 L766.1,1229.4 L768.7,1229.6 L771.4,1230.7 L774.0,1229.5 L776.6,1230.6 L779.3,1229.5 L781.9,1229.1 L784.6,1231.5 L787.2,1229.5 L789.9,1227.5 L792.5,1228.6 L795.2,1229.5 L797.8,1228.8 L800.5,1228.6 L803.2,1229.4 L805.8,1228.9 L808.5,1231.0 L811.2,1228.8 L813.8,1228.9 L816.5,1229.9 L819.1,1227.9 L821.8,1229.8 L824.5,1228.5 L827.1,1230.0 L829.8,1227.5 L832.5,1229.0 L835.1,1226.6 L837.8,1228.0 L840.5,1228.5 L843.1,1229.1 L845.8,1228.5 L848.5,1230.7 L851.3,1230.3 L854.0,1226.3 L856.8,1226.7 L859.5,1228.9 L862.3,1227.7 L865.0,1227.0 L868.0,1224.8 L871.0,1226.5 L874.0,1224.0 L877.0,1223.8 L880.0,1222.7 L883.0,1223.7 L885.6,1222.2 L888.2,1224.1 L890.8,1220.7 L893.4,1219.0 L896.0,1218.0 L899.1,1219.5 L902.2,1214.4 L905.3,1213.4 L908.2,1206.3 L911.0,1199.3 L913.9,1192.7 L920.8,1170.4 L924.2,1162.3 L927.6,1153.2 L931.0,1136.0 L934.5,1133.4 L938.0,1131.5 L941.4,1139.8 L944.8,1144.6 L950.0,1161.8 L956.8,1187.6 L960.2,1192.4 L963.7,1198.5 L967.1,1203.0 L970.2,1206.7 L973.3,1208.9 L976.4,1212.2 L979.5,1216.7 L982.6,1220.2 L985.6,1218.8 L988.6,1222.8 L991.6,1224.2 L994.6,1225.4 L997.5,1226.1 L1000.3,1226.4 L1003.2,1227.5 L1006.1,1227.2 L1008.9,1229.0 L1011.8,1228.8 L1014.5,1224.6 L1017.3,1225.5 L1020.0,1222.2 L1023.8,1221.1 L1027.6,1222.2 L1030.2,1221.6 L1032.9,1219.3 L1035.5,1218.2 L1038.2,1217.6 L1042.0,1213.6 L1045.8,1211.5 L1049.6,1207.9 L1053.4,1201.0 L1056.5,1198.1 L1059.5,1196.4 L1062.6,1196.3 L1066.4,1194.3 L1070.2,1191.8 L1073.2,1190.2 L1076.2,1188.0 L1080.8,1197.9 L1084.6,1198.7 L1088.4,1199.4 L1092.2,1200.5 L1096.0,1204.0 L1099.8,1207.7 L1103.6,1213.0 L1107.4,1217.9 L1111.2,1220.7 L1114.2,1220.5 L1117.3,1223.4 L1120.3,1223.7 L1123.3,1225.2 L1126.4,1225.1 L1129.4,1224.1 L1132.5,1228.5 L1135.5,1226.8 L1138.2,1225.8 L1140.8,1224.7 L1143.5,1222.9 L1146.2,1222.2 L1148.8,1222.6 L1151.5,1224.9 L1154.2,1227.0 L1156.8,1228.3 L1159.8,1227.3 L1162.9,1228.4 L1165.9,1229.7 L1169.0,1228.8 L1172.0,1228.3 L1174.7,1228.0 L1177.5,1229.3 L1180.2,1229.0 L1183.0,1228.8 L1185.7,1226.6 L1188.4,1225.2 L1191.2,1228.2 L1193.9,1227.2 L1196.7,1226.5 L1199.4,1226.8 L1202.1,1227.5 L1204.8,1226.5 L1207.5,1226.5 L1210.2,1229.5 L1212.9,1225.6 L1215.6,1228.6 L1218.3,1228.9 L1221.0,1230.0 L1223.7,1228.3 L1226.4,1228.7 L1229.2,1227.2 L1231.9,1228.4 L1234.6,1226.0 L1237.3,1228.0 L1240.0,1228.7 L1242.7,1228.8 L1245.4,1228.5 L1248.1,1230.6 L1250.8,1227.4 L1253.5,1229.6 L1256.2,1229.1 L1258.9,1229.7 L1261.6,1229.7 L1264.3,1229.6 L1267.0,1231.8 L1269.7,1228.1 L1272.4,1231.0 L1275.1,1231.0 L1277.8,1229.1 L1280.5,1228.4 L1283.2,1227.6 L1285.9,1228.0 L1288.6,1231.4 L1291.3,1226.3 L1294.0,1229.3 L1296.7,1227.9 L1299.4,1230.9 L1302.1,1229.0 L1304.8,1228.5 L1307.5,1226.8 L1310.2,1227.8 L1312.9,1228.5 L1315.6,1228.4 L1318.3,1227.0 L1321.0,1227.8 L1323.7,1227.5 L1326.4,1228.6 L1329.1,1228.2 L1331.8,1228.1 L1334.5,1227.1 L1337.2,1228.7 L1339.9,1227.0 L1342.6,1226.6 L1345.3,1227.0 L1348.0,1227.1 L1350.7,1227.4 L1353.6,1227.5 L1356.4,1225.9 L1359.3,1230.3 L1362.2,1229.8 L1365.0,1231.1 L1367.9,1229.5 L1370.7,1231.3 L1373.6,1230.8 L1376.2,1231.2 L1378.9,1231.2 L1381.5,1233.5 L1384.2,1230.8 L1386.8,1232.4 L1389.5,1229.8 L1392.1,1232.7 L1394.8,1232.0 L1397.4,1231.2 L1400.1,1231.9 L1402.7,1230.2 L1405.4,1231.7 L1408.0,1233.1 L1411.0,1233.5 L1413.9,1230.3 L1416.9,1234.9 L1419.8,1235.0 L1422.8,1233.1 L1425.7,1232.4 L1428.7,1234.3 L1431.3,1232.6 L1433.9,1232.8 L1436.5,1233.4 L1439.1,1236.9 L1441.7,1232.9 L1444.4,1235.2 L1447.0,1235.7 L1449.6,1233.1 L1452.2,1233.9 L1454.8,1235.0 L1457.4,1233.5 L1460.0,1235.7 L1462.6,1236.8 L1465.2,1234.2 L1467.8,1233.2 L1470.4,1234.9 L1473.0,1234.6 L1475.7,1233.3 L1478.3,1234.0 L1480.9,1234.3 L1483.5,1234.8 L1486.1,1235.5 L1488.7,1233.6 L1491.3,1232.6 L1493.9,1232.2 L1496.5,1236.4 L1499.1,1233.6 L1501.7,1233.6 L1504.3,1237.1 L1507.0,1235.4 L1509.6,1236.8 L1512.2,1233.9 L1514.8,1233.3 L1517.4,1233.5 L1520.0,1234.9 L1522.6,1234.6 L1525.2,1234.5 L1527.8,1236.8 L1530.4,1235.7 L1533.0,1232.7 L1535.6,1234.6 L1538.2,1234.7 L1540.9,1233.1 L1543.5,1236.8 L1546.1,1235.1 L1548.7,1235.8 L1551.3,1233.4 L1553.9,1234.0 L1556.6,1232.5 L1559.3,1234.6 L1561.9,1233.4 L1564.6,1232.8 L1567.3,1233.2 L1570.0,1233.5 L1572.7,1233.3 L1575.3,1232.7 L1578.0,1233.4 L1580.7,1236.2 L1583.4,1234.0 L1586.1,1231.8 L1588.7,1234.8 L1591.4,1231.6 L1594.1,1230.2 L1596.8,1230.3 L1599.5,1229.3 L1602.1,1233.0 L1604.8,1230.2 L1607.5,1231.4 L1610.2,1229.1 L1612.8,1229.6 L1615.5,1229.5 L1618.2,1227.7 L1620.8,1228.0 L1623.5,1228.1 L1626.2,1228.4 L1628.9,1225.9 L1631.5,1227.2 L1634.2,1226.0 L1636.9,1225.2 L1639.6,1224.4 L1642.2,1222.0 L1644.9,1220.1 L1647.6,1221.6 L1650.3,1219.3 L1653.2,1220.7 L1656.1,1219.8 L1659.0,1220.4 L1661.9,1222.9 L1664.8,1225.1 L1667.7,1223.4 L1670.5,1224.7 L1673.3,1228.1 L1676.1,1226.3 L1678.9,1227.2 L1681.7,1228.2 L1684.5,1229.8 L1687.3,1227.5 L1690.1,1230.3 L1692.9,1232.5 L1695.7,1230.0 L1698.5,1232.7 L1701.2,1233.0 L1703.9,1233.7 L1706.6,1234.9 L1709.2,1234.8 L1711.9,1232.9 L1714.6,1235.5 L1717.3,1231.7 L1720.0,1231.4 L1722.7,1234.7 L1725.4,1234.0 L1728.0,1231.8 L1730.7,1234.6 L1733.4,1234.3 L1736.1,1234.2 L1738.8,1232.9 L1741.5,1231.9 L1744.2,1231.4 L1746.8,1233.3 L1749.5,1233.4 L1752.2,1233.0 L1754.9,1233.0 L1757.6,1234.8 L1760.3,1232.4 L1763.0,1232.9 L1765.6,1236.2 L1768.3,1233.1 L1771.0,1233.2 L1773.7,1234.0 L1776.8,1233.6 L1780.0,1230.6 L1782.7,1227.1 L1785.4,1229.8 L1788.1,1225.0 L1790.8,1224.1 L1793.5,1223.8 L1801.3,1198.0 L1804.7,1169.9 L1808.0,1125.0 L1813.3,1081.0 L1815.7,1019.0 L1816.3,949.0 L1818.0,920.0 L1820.0,880.0 L1821.3,871.0 L1822.5,880.0 L1824.5,920.0 L1826.0,949.0 L1827.5,1019.0 L1829.0,1081.0 L1830.5,1130.0 L1832.5,1170.0 L1836.0,1200.0 L1839.5,1208.6 L1843.0,1220.4 L1845.6,1222.2 L1848.2,1225.4 L1850.8,1230.3 L1853.5,1232.0 L1856.1,1236.7 L1858.7,1238.0 L1861.4,1238.6 L1864.0,1235.7 L1866.7,1236.9 L1869.3,1235.8 L1872.0,1235.6 L1874.7,1235.9 L1877.3,1235.8 L1880.0,1235.0 L1882.9,1235.4 L1885.7,1232.1 L1888.6,1234.4 L1891.4,1233.9 L1894.3,1236.5 L1897.1,1233.8 L1900.0,1234.0 L1902.8,1234.2 L1905.6,1234.4 L1908.3,1235.6 L1911.1,1233.5 L1913.9,1234.9 L1916.7,1235.2 L1919.4,1235.5 L1922.2,1235.5 L1925.0,1236.0 L1927.8,1235.5 L1930.6,1236.4 L1933.3,1234.9 L1936.1,1238.6 L1938.9,1236.8 L1941.7,1234.8 L1944.4,1236.8 L1947.2,1238.5 L1950.0,1237.5 L1952.7,1237.3 L1955.3,1237.3 L1958.0,1234.8 L1960.6,1239.2 L1963.3,1237.6 L1965.9,1235.2 L1968.6,1237.0 L1971.2,1239.3 L1973.9,1238.0 L1976.6,1235.8 L1979.2,1236.9 L1981.9,1237.9 L1984.5,1240.1 L1987.2,1237.9 L1989.8,1238.5 L1992.5,1237.2 L1995.2,1237.7 L1997.8,1236.4 L2000.5,1236.1 L2003.1,1236.0 L2005.8,1237.0 L2008.4,1239.2 L2011.1,1237.7 L2013.8,1239.2 L2016.4,1238.7 L2019.1,1237.9 L2021.7,1237.1 L2024.4,1240.4 L2027.0,1239.1 L2029.7,1239.3 L2032.3,1240.8 L2035.0,1237.8" fill="none" stroke="#f0f" stroke-width="6.6" stroke-linejoin="round" stroke-linecap="round"/>
<path d="M364.5,1239.0 L367.1,1239.0 L369.7,1239.0 L372.3,1239.0 L374.9,1239.0 L377.5,1239.0 L380.1,1239.0 L382.7,1239.0 L385.3,1239.0 L388.0,1239.0 L390.6,1239.0 L393.2,1239.0 L395.8,1239.0 L398.4,1239.0 L401.0,1239.0 L403.6,1239.0 L406.2,1239.0 L408.8,1239.0 L411.4,1239.0 L414.0,1239.0 L416.6,1239.0 L419.2,1239.0 L421.8,1239.0 L424.4,1239.0 L427.0,1239.0 L429.6,1239.0 L432.2,1239.0 L434.9,1239.0 L437.5,1239.0 L440.1,1239.0 L442.7,1239.0 L445.3,1239.0 L447.9,1239.0 L450.5,1239.0 L453.1,1239.0 L455.7,1239.0 L458.3,1239.0 L460.9,1239.0 L463.5,1239.0 L466.1,1239.0 L468.7,1239.0 L471.3,1239.0 L473.9,1239.0 L476.5,1239.0 L479.2,1239.0 L481.8,1239.0 L484.4,1239.0 L487.0,1239.0 L489.6,1239.0 L492.2,1239.0 L494.8,1239.0 L497.4,1239.0 L500.0,1239.0 L502.7,1237.4 L505.4,1237.4 L508.1,1239.7 L510.7,1235.8 L513.4,1238.6 L516.1,1235.8 L518.8,1240.1 L521.5,1238.9 L524.2,1240.3 L526.8,1237.9 L529.5,1239.0 L532.2,1238.1 L534.9,1237.4 L537.6,1238.5 L540.3,1236.7 L542.9,1237.8 L545.6,1239.1 L548.3,1238.2 L551.0,1238.1 L553.7,1237.5 L556.3,1240.7 L559.0,1237.8 L561.6,1236.9 L564.3,1237.7 L567.0,1236.7 L569.6,1236.8 L572.3,1236.8 L574.9,1239.7 L577.6,1237.0 L580.2,1237.1 L582.9,1237.6 L585.6,1239.3 L588.2,1236.2 L590.9,1235.6 L593.5,1239.5 L596.2,1236.2 L599.0,1234.3 L601.8,1235.7 L604.6,1237.1 L607.4,1239.2 L610.2,1235.0 L613.0,1233.0 L615.9,1237.1 L618.7,1235.5 L621.5,1235.7 L624.3,1236.8 L627.1,1236.5 L629.9,1236.2 L632.6,1236.2 L635.2,1234.9 L637.9,1236.8 L640.6,1234.8 L643.5,1236.6 L646.5,1234.4 L649.5,1233.6 L652.4,1234.0 L655.5,1234.8 L658.7,1234.4 L661.9,1232.3 L665.0,1233.5 L668.7,1232.2 L672.4,1232.0 L677.4,1227.0 L682.3,1221.6 L686.0,1222.2 L689.7,1220.0 L690.7,1212.0 L694.7,1207.2 L699.7,1200.7 L704.6,1196.3 L707.1,1199.7 L709.6,1206.2 L714.5,1207.7 L719.5,1214.6 L724.5,1224.5 L729.4,1228.0 L733.0,1229.0 L735.9,1230.0 L738.7,1230.8 L741.6,1232.3 L744.7,1233.2 L747.8,1233.5 L750.9,1234.1 L753.7,1234.1 L756.5,1231.6 L759.2,1236.4 L762.0,1234.4 L764.8,1234.1 L767.4,1233.0 L770.1,1235.4 L772.7,1234.5 L775.4,1234.1 L778.0,1235.5 L780.7,1237.0 L783.3,1234.1 L786.1,1235.0 L788.8,1236.5 L791.6,1237.4 L794.4,1233.4 L797.1,1234.3 L799.9,1235.1 L802.7,1236.1 L805.4,1232.9 L808.2,1234.8 L811.0,1236.8 L813.8,1236.5 L816.5,1235.9 L819.3,1235.1 L821.9,1232.6 L824.6,1238.2 L827.2,1235.8 L829.9,1236.1 L832.5,1235.7 L835.2,1232.9 L837.8,1233.2 L840.5,1233.5 L843.1,1237.6 L845.8,1234.0 L848.4,1234.8 L851.1,1234.8 L853.7,1235.8 L856.4,1235.8 L859.0,1235.1 L862.4,1234.9 L865.8,1234.0 L868.6,1232.0 L871.4,1229.1 L874.2,1233.0 L877.1,1232.7 L879.9,1233.6 L882.7,1231.5 L885.5,1231.2 L888.5,1230.1 L891.5,1230.5 L895.1,1229.4 L898.7,1227.2 L901.4,1224.1 L904.1,1223.8 L906.8,1222.8 L909.5,1223.4 L912.2,1222.0 L915.6,1219.0 L919.1,1211.5 L922.5,1204.8 L925.9,1197.7 L929.3,1187.6 L932.2,1185.0 L935.1,1182.2 L938.0,1179.0 L941.4,1161.5 L946.5,1173.8 L951.7,1192.7 L954.6,1199.0 L957.4,1206.1 L960.3,1213.4 L963.0,1213.0 L965.8,1217.3 L968.5,1219.9 L971.3,1225.4 L974.0,1227.0 L977.0,1228.7 L980.0,1230.2 L983.0,1231.6 L986.0,1230.5 L988.9,1230.3 L991.7,1232.3 L994.6,1233.6 L997.5,1231.3 L1000.3,1232.9 L1003.2,1231.5 L1006.1,1229.8 L1008.9,1232.3 L1011.8,1232.3 L1014.5,1230.4 L1017.3,1230.8 L1020.0,1229.8 L1023.0,1228.9 L1026.1,1229.6 L1029.1,1226.1 L1032.2,1231.3 L1035.2,1228.3 L1039.0,1225.5 L1042.8,1219.2 L1045.8,1221.7 L1048.9,1225.2 L1051.9,1220.0 L1055.0,1217.1 L1058.0,1213.0 L1061.8,1214.7 L1065.6,1214.6 L1068.2,1214.0 L1070.9,1212.8 L1073.5,1208.6 L1076.2,1210.0 L1079.0,1206.9 L1081.8,1208.4 L1084.6,1205.0 L1088.0,1207.8 L1091.4,1210.0 L1095.2,1213.4 L1099.0,1220.7 L1102.0,1221.5 L1105.1,1222.6 L1108.2,1225.1 L1111.2,1228.3 L1114.2,1230.4 L1117.3,1229.2 L1120.3,1231.6 L1123.4,1230.9 L1126.4,1231.3 L1129.2,1228.7 L1132.1,1229.2 L1134.9,1232.4 L1137.7,1227.7 L1140.5,1226.7 L1143.4,1229.1 L1146.2,1226.8 L1149.2,1230.7 L1152.3,1234.4 L1155.1,1234.4 L1157.9,1236.3 L1160.7,1232.1 L1163.6,1235.0 L1166.4,1233.0 L1169.2,1232.5 L1172.0,1234.4 L1175.0,1233.6 L1178.1,1236.5 L1181.1,1235.1 L1184.2,1233.2 L1187.2,1235.9 L1190.2,1233.7 L1193.3,1236.4 L1196.4,1234.9 L1199.4,1232.8 L1202.2,1231.9 L1205.0,1237.1 L1207.7,1233.9 L1210.5,1233.4 L1213.3,1235.3 L1216.1,1237.3 L1218.8,1238.8 L1221.6,1238.5 L1224.4,1237.7 L1227.1,1237.1 L1229.7,1237.0 L1232.4,1235.8 L1235.0,1237.6 L1237.7,1236.9 L1240.3,1238.0 L1243.0,1236.0 L1245.6,1237.0 L1248.3,1236.5 L1250.9,1236.1 L1253.6,1236.1 L1256.2,1236.3 L1258.9,1237.7 L1261.5,1235.8 L1264.2,1237.7 L1266.8,1236.8 L1269.5,1234.5 L1272.1,1236.6 L1274.8,1236.0 L1277.4,1237.2 L1280.1,1234.6 L1282.7,1234.2 L1285.4,1233.2 L1288.0,1234.0 L1290.7,1234.1 L1293.3,1233.1 L1296.0,1233.4 L1298.7,1232.9 L1301.4,1234.1 L1304.1,1233.5 L1306.8,1233.8 L1309.5,1232.3 L1312.2,1233.9 L1314.9,1232.3 L1317.6,1232.6 L1320.3,1234.0 L1323.0,1236.7 L1325.7,1235.3 L1328.4,1234.0 L1331.1,1233.9 L1333.8,1235.5 L1336.5,1236.1 L1339.2,1234.3 L1341.9,1236.1 L1344.6,1234.5 L1347.3,1235.2 L1350.0,1234.7 L1352.7,1234.9 L1355.4,1234.4 L1358.1,1235.4 L1360.8,1233.0 L1363.4,1234.5 L1366.1,1236.9 L1368.8,1235.3 L1371.5,1237.4 L1374.2,1235.2 L1376.9,1236.6 L1379.6,1237.8 L1382.3,1236.1 L1385.0,1237.7 L1387.7,1236.8 L1390.5,1241.2 L1393.2,1237.0 L1395.9,1237.1 L1398.7,1237.3 L1401.4,1238.2 L1404.1,1238.2 L1406.8,1239.7 L1409.6,1239.5 L1412.3,1238.0 L1415.0,1238.1 L1417.8,1236.8 L1420.5,1236.8 L1423.2,1237.9 L1426.0,1239.9 L1428.7,1239.0 L1431.3,1239.2 L1433.9,1240.1 L1436.5,1240.3 L1439.1,1238.8 L1441.7,1241.8 L1444.4,1238.4 L1447.0,1238.2 L1449.6,1238.5 L1452.2,1240.6 L1454.8,1238.9 L1457.4,1238.1 L1460.0,1239.7 L1462.6,1240.6 L1465.2,1239.0 L1467.8,1238.8 L1470.4,1240.6 L1473.0,1240.4 L1475.7,1240.4 L1478.3,1238.1 L1480.9,1239.5 L1483.5,1239.7 L1486.1,1236.8 L1488.7,1240.8 L1491.3,1239.3 L1493.9,1238.8 L1496.5,1242.2 L1499.1,1239.4 L1501.7,1238.3 L1504.3,1239.2 L1507.0,1240.0 L1509.6,1240.3 L1512.2,1239.2 L1514.8,1238.1 L1517.4,1238.4 L1520.0,1238.2 L1522.6,1237.9 L1525.2,1239.3 L1527.8,1238.7 L1530.4,1239.4 L1533.0,1238.2 L1535.6,1238.2 L1538.2,1239.1 L1540.9,1238.9 L1543.5,1240.9 L1546.1,1238.2 L1548.7,1239.7 L1551.3,1239.3 L1553.9,1239.4 L1556.6,1237.6 L1559.3,1240.2 L1561.9,1239.4 L1564.6,1236.3 L1567.3,1239.8 L1570.0,1240.2 L1572.7,1237.9 L1575.3,1241.1 L1578.0,1239.0 L1580.7,1237.2 L1583.4,1239.4 L1586.1,1238.1 L1588.7,1236.7 L1591.4,1235.6 L1594.1,1238.7 L1596.8,1237.3 L1599.5,1239.1 L1602.1,1238.7 L1604.8,1237.4 L1607.5,1238.0 L1610.2,1236.9 L1612.8,1239.5 L1615.5,1239.1 L1618.2,1237.4 L1620.8,1235.5 L1623.5,1234.3 L1626.2,1234.7 L1628.9,1237.0 L1631.5,1235.0 L1634.2,1234.0 L1637.1,1232.9 L1639.9,1230.9 L1642.8,1232.0 L1645.7,1229.8 L1648.6,1230.2 L1651.4,1230.4 L1654.3,1228.7 L1657.2,1230.5 L1660.0,1229.7 L1662.9,1229.4 L1665.8,1230.5 L1668.7,1233.0 L1671.5,1231.5 L1674.4,1231.4 L1677.1,1230.3 L1679.8,1234.9 L1682.4,1233.9 L1685.1,1238.9 L1687.8,1234.4 L1690.5,1235.7 L1693.1,1236.1 L1695.8,1237.8 L1698.5,1238.0 L1701.1,1237.4 L1703.7,1236.4 L1706.3,1236.0 L1708.9,1238.5 L1711.5,1238.2 L1714.1,1238.2 L1716.7,1242.0 L1719.3,1240.4 L1722.0,1241.0 L1724.6,1239.0 L1727.2,1240.3 L1729.8,1239.7 L1732.4,1239.9 L1735.0,1241.3 L1737.6,1241.3 L1740.2,1240.7 L1742.9,1240.9 L1745.5,1240.4 L1748.2,1238.1 L1750.8,1238.8 L1753.5,1240.1 L1756.1,1238.9 L1758.8,1238.1 L1761.4,1239.4 L1764.1,1237.4 L1766.7,1237.5 L1769.4,1239.4 L1772.0,1237.5 L1774.7,1239.6 L1777.3,1238.2 L1780.0,1237.3 L1782.8,1238.4 L1785.6,1238.8 L1788.4,1234.4 L1791.2,1237.3 L1794.2,1233.4 L1797.2,1228.1 L1800.2,1226.0 L1803.0,1217.0 L1805.8,1209.2 L1809.2,1181.1 L1811.5,1147.4 L1813.7,1113.7 L1815.1,1081.0 L1817.6,1019.0 L1818.2,949.0 L1820.6,872.0 L1820.8,830.0 L1821.8,800.0 L1823.3,790.0 L1824.8,800.0 L1825.4,830.0 L1826.0,872.0 L1826.6,949.0 L1828.5,1019.0 L1830.4,1081.0 L1832.8,1113.7 L1835.0,1147.4 L1836.7,1181.1 L1839.6,1214.8 L1842.2,1219.5 L1844.8,1226.2 L1847.4,1229.4 L1850.2,1231.3 L1853.1,1235.5 L1855.9,1234.6 L1858.7,1237.3 L1861.5,1237.5 L1864.3,1238.0 L1867.1,1239.4 L1869.9,1238.4 L1872.5,1238.4 L1875.2,1237.8 L1877.8,1238.2 L1880.4,1236.9 L1883.1,1240.5 L1885.7,1239.9 L1888.3,1239.6 L1891.0,1239.4 L1893.6,1238.4 L1896.2,1238.7 L1898.9,1240.4 L1901.5,1238.4 L1904.1,1238.5 L1906.8,1241.7 L1909.4,1241.7 L1912.0,1240.1 L1914.7,1240.5 L1917.3,1240.2 L1919.9,1241.9 L1922.6,1239.5 L1925.2,1240.3 L1927.8,1240.9 L1930.5,1242.3 L1933.1,1240.1 L1935.7,1240.8 L1938.4,1240.0 L1941.0,1240.7 L1943.6,1239.8 L1946.2,1239.8 L1948.8,1240.8 L1951.4,1241.9 L1954.1,1239.8 L1956.7,1239.9 L1959.3,1240.2 L1961.9,1241.2 L1964.5,1241.6 L1967.1,1239.1 L1969.7,1241.2 L1972.3,1239.4 L1974.9,1241.6 L1977.6,1239.4 L1980.2,1239.3 L1982.8,1239.8 L1985.4,1240.6 L1988.0,1239.4 L1990.6,1241.0 L1993.2,1240.9 L1995.8,1240.8 L1998.4,1241.1 L2001.1,1241.8 L2003.7,1239.7 L2006.3,1240.7 L2008.9,1240.7 L2011.5,1238.0 L2014.1,1241.2 L2016.7,1239.7 L2019.3,1239.8 L2021.9,1240.1 L2024.6,1240.8 L2027.2,1241.1 L2029.8,1241.3 L2032.4,1239.8 L2035.0,1240.7" fill="none" stroke="#008000" stroke-width="6.6" stroke-linejoin="round" stroke-linecap="round"/>
<line x1="1337.7" y1="968" x2="1337.7" y2="1266" stroke="#000" stroke-width="3.3" stroke-dasharray="17 13.8"/>
<rect x="364.2" y="31.6" width="1671.2" height="1236.1" fill="none" stroke="#000" stroke-width="4.3"/>
<line x1="364.2" y1="1267.7" x2="364.2" y2="1241.7" stroke="#000" stroke-width="4.3"/>
<line x1="782.0" y1="1267.7" x2="782.0" y2="1241.7" stroke="#000" stroke-width="4.3"/>
<line x1="1199.8" y1="1267.7" x2="1199.8" y2="1241.7" stroke="#000" stroke-width="4.3"/>
<line x1="1617.6" y1="1267.7" x2="1617.6" y2="1241.7" stroke="#000" stroke-width="4.3"/>
<line x1="2035.4" y1="1267.7" x2="2035.4" y2="1241.7" stroke="#000" stroke-width="4.3"/>
<line x1="573.1" y1="1267.7" x2="573.1" y2="1254.2" stroke="#000" stroke-width="4.3"/>
<line x1="990.9" y1="1267.7" x2="990.9" y2="1254.2" stroke="#000" stroke-width="4.3"/>
<line x1="1408.7" y1="1267.7" x2="1408.7" y2="1254.2" stroke="#000" stroke-width="4.3"/>
<line x1="1826.5" y1="1267.7" x2="1826.5" y2="1254.2" stroke="#000" stroke-width="4.3"/>
<line x1="364.2" y1="1244.5" x2="390.2" y2="1244.5" stroke="#000" stroke-width="4.3"/>
<line x1="364.2" y1="1024.0" x2="390.2" y2="1024.0" stroke="#000" stroke-width="4.3"/>
<line x1="364.2" y1="803.5" x2="390.2" y2="803.5" stroke="#000" stroke-width="4.3"/>
<line x1="364.2" y1="583.1" x2="390.2" y2="583.1" stroke="#000" stroke-width="4.3"/>
<line x1="364.2" y1="362.6" x2="390.2" y2="362.6" stroke="#000" stroke-width="4.3"/>
<line x1="364.2" y1="142.2" x2="390.2" y2="142.2" stroke="#000" stroke-width="4.3"/>
<line x1="364.2" y1="1134.2" x2="377.7" y2="1134.2" stroke="#000" stroke-width="4.3"/>
<line x1="364.2" y1="913.8" x2="377.7" y2="913.8" stroke="#000" stroke-width="4.3"/>
<line x1="364.2" y1="693.3" x2="377.7" y2="693.3" stroke="#000" stroke-width="4.3"/>
<line x1="364.2" y1="472.9" x2="377.7" y2="472.9" stroke="#000" stroke-width="4.3"/>
<line x1="364.2" y1="252.4" x2="377.7" y2="252.4" stroke="#000" stroke-width="4.3"/>
<line x1="364.2" y1="32.0" x2="377.7" y2="32.0" stroke="#000" stroke-width="4.3"/>
<text transform="translate(337.5,1264.8) scale(1.0,1.05)" font-size="67.5" text-anchor="end">0</text>
<text transform="translate(337.5,1044.3) scale(1.0,1.05)" font-size="67.5" text-anchor="end">500</text>
<text transform="translate(337.5,823.8) scale(1.0,1.05)" font-size="67.5" text-anchor="end">1000</text>
<text transform="translate(337.5,603.4) scale(1.0,1.05)" font-size="67.5" text-anchor="end">1500</text>
<text transform="translate(337.5,382.9) scale(1.0,1.05)" font-size="67.5" text-anchor="end">2000</text>
<text transform="translate(337.5,162.5) scale(1.0,1.05)" font-size="67.5" text-anchor="end">2500</text>
<text transform="translate(365.0,1348.7) scale(1.0,1.065)" font-size="67.5" text-anchor="middle">10</text>
<text transform="translate(782.8,1348.7) scale(1.0,1.065)" font-size="67.5" text-anchor="middle">15</text>
<text transform="translate(1200.6,1348.7) scale(1.0,1.065)" font-size="67.5" text-anchor="middle">20</text>
<text transform="translate(1618.4,1348.7) scale(1.0,1.065)" font-size="67.5" text-anchor="middle">25</text>
<text transform="translate(2036.2,1348.7) scale(1.0,1.065)" font-size="67.5" text-anchor="middle">30</text>
<text transform="translate(1025.4,1470.5) scale(1.11,1.0)" font-size="77" text-anchor="start">2</text>
<text transform="translate(1070.4,1470.6) scale(1.16,1)" font-size="68" style="font-family:'Liberation Serif', serif">θ</text>
<text transform="translate(1127.5,1470.3) scale(1.0,0.98)" font-size="78.4" text-anchor="start">degree</text>
<text transform="translate(88.8,651.8) rotate(-90) scale(1,1.03)" font-size="78" text-anchor="middle">Intensity (a.u.)</text>
<text transform="translate(581.5,324.2) scale(1.0,1.0)" font-size="73.5" text-anchor="start">(110)</text>
<text transform="translate(726.5,204.2) scale(1.0,1.0)" font-size="73.5" text-anchor="start">(040)</text>
<text transform="translate(1048.3,671.7) scale(1.0,1.0)" font-size="73.5" text-anchor="start">(130)</text>
<text transform="translate(1164.8,836.7) scale(0.993,1.0)" font-size="73.5" text-anchor="start">(111)/(041)</text>
<text transform="translate(1572.0,1058.1) scale(1.0,1.0)" font-size="73.5" text-anchor="start">(060)</text>
<text transform="translate(1677.0,753.3) scale(1.0,1.02)" font-size="73.5" text-anchor="start">TiO</text>
<text transform="translate(1793.8,781.2) scale(1.18,1.05)" font-size="42.5" text-anchor="start">2</text>
<line x1="1449.3" y1="117" x2="1597" y2="117" stroke="#000" stroke-width="6.8" stroke-linecap="round"/>
<text transform="translate(1613.6,139.8) scale(1.047,1.05)" font-size="67.5" text-anchor="start">PP</text>
<line x1="1449.3" y1="199.3" x2="1597" y2="199.3" stroke="#f00" stroke-width="6.8" stroke-linecap="round"/>
<text transform="translate(1614.5,222.2) scale(1.0,1.05)" font-size="67.5" text-anchor="start">10 wt% TiO</text>
<text transform="translate(1960.0,248.8) scale(1.1,1.05)" font-size="40.5" text-anchor="start">2</text>
<line x1="1449.3" y1="303.3" x2="1597" y2="303.3" stroke="#00f" stroke-width="6.8" stroke-linecap="round"/>
<text transform="translate(1614.5,326.3) scale(1.0,1.05)" font-size="67.5" text-anchor="start">20 wt% TiO</text>
<text transform="translate(1960.0,352.9) scale(1.1,1.05)" font-size="40.5" text-anchor="start">2</text>
<line x1="1449.3" y1="407.5" x2="1597" y2="407.5" stroke="#f0f" stroke-width="6.8" stroke-linecap="round"/>
<text transform="translate(1614.5,430.4) scale(1.0,1.05)" font-size="67.5" text-anchor="start">30 wt% TiO</text>
<text transform="translate(1960.0,457.0) scale(1.1,1.05)" font-size="40.5" text-anchor="start">2</text>
<line x1="1449.3" y1="511.5" x2="1597" y2="511.5" stroke="#008000" stroke-width="6.8" stroke-linecap="round"/>
<text transform="translate(1614.5,534.5) scale(1.0,1.05)" font-size="67.5" text-anchor="start">40 wt% TiO</text>
<text transform="translate(1960.0,561.1) scale(1.1,1.05)" font-size="40.5" text-anchor="start">2</text>
</svg>
</body></html>
